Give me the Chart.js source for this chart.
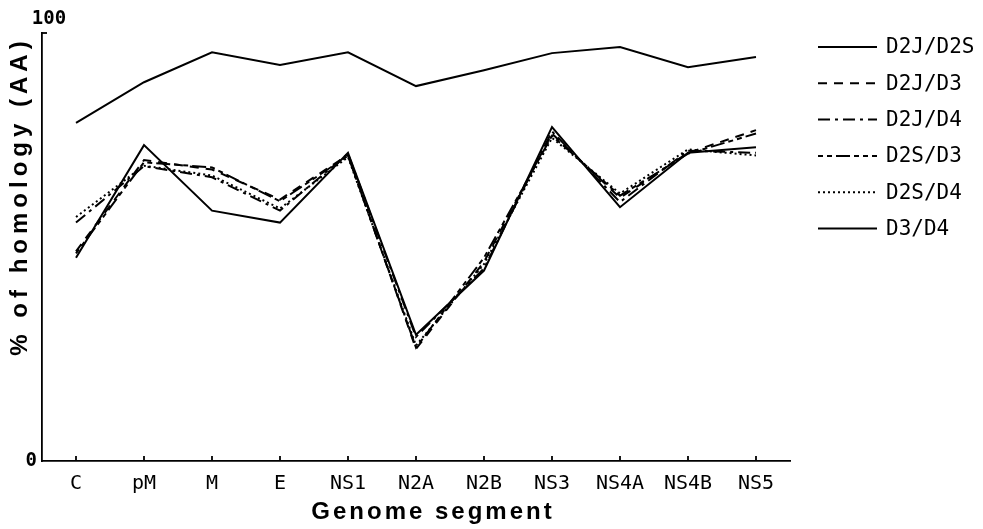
<!DOCTYPE html>
<html>
<head>
<meta charset="utf-8">
<script src="https://cdn.jsdelivr.net/npm/chart.js@4/dist/chart.umd.min.js"></script>
<style>
  html, body { margin: 0; padding: 0; background: #fff; }
  #wrap { width: 983px; height: 529px; }
</style>
</head>
<body>
<div id="wrap"><canvas id="homologyChart"></canvas></div>
<script>
// Segmentos del genoma
const categories = ['C', 'pM', 'M', 'E', 'NS1', 'N2A', 'N2B', 'NS3', 'NS4A', 'NS4B', 'NS5'];

// % de homología (AA) por par
const d2jD2s = [79, 88.5, 95.5, 92.5, 95.5, 87.6, 91.3, 95.3, 96.7, 92, 94.4];
const d2jD3 = [49, 70.3, 68.1, 61.1, 71.5, 26.2, 46.5, 76.5, 61.5, 72, 77.3];
const d2jD4 = [55.7, 68.9, 66.3, 58.5, 71.8, 29, 45, 77, 60.5, 72.5, 72];
const d2sD3 = [48.5, 69.8, 68.6, 60.7, 71.3, 26.5, 47.5, 76, 62, 71.8, 76.5];
const d2sD4 = [57, 69, 66.7, 59, 71, 27, 46, 75.5, 62.5, 72.8, 71.4];
const d3D4 = [47.5, 73.8, 58.5, 55.7, 72, 29.5, 44.5, 78, 59.3, 72, 73.3];

const yTickLabels = ['0', '100'];

const mono = '"DejaVu Sans Mono", "Liberation Mono", monospace';

function serie(label, data, dash) {
    return {
        label: label,
        data: data,
        borderColor: '#000',
        borderWidth: 2,
        borderDash: dash,
        pointRadius: 0,
        tension: 0,
        fill: false
    };
}

// Leyenda, títulos y marcas dibujados a mano
const decor = {
    id: 'decor',
    afterDraw(chart) {
        const ctx = chart.ctx;
        const a = chart.chartArea;
        const x = chart.scales.x;
        const y = chart.scales.y;
        ctx.save();
        ctx.strokeStyle = '#000';
        ctx.fillStyle = '#000';
        ctx.lineWidth = 1.8;

        // marcas hacia dentro del eje x
        x.ticks.forEach((t, i) => {
            const px = x.getPixelForTick(i);
            ctx.beginPath();
            ctx.moveTo(px, a.bottom);
            ctx.lineTo(px, a.bottom - 5);
            ctx.stroke();
        });
        // tope del eje y
        const top = y.getPixelForValue(100);
        ctx.beginPath();
        ctx.moveTo(a.left, top);
        ctx.lineTo(a.left + 5, top);
        ctx.stroke();

        // etiquetas del eje y
        ctx.font = 'bold 19px ' + mono;
        ctx.textAlign = 'right';
        ctx.textBaseline = 'middle';
        ctx.fillText(yTickLabels[0], a.left - 5, y.getPixelForValue(0));
        ctx.textAlign = 'center';
        ctx.textBaseline = 'bottom';
        ctx.fillText(yTickLabels[1], a.left + 7, top - 4);

        // títulos
        ctx.font = 'bold 24px "Liberation Sans", Arial, sans-serif';
        ctx.letterSpacing = '3px';
        ctx.textAlign = 'center';
        ctx.textBaseline = 'middle';
        ctx.fillText('Genome segment', 433, 512);
        ctx.letterSpacing = '5px';
        ctx.translate(20, 196);
        ctx.rotate(-Math.PI / 2);
        ctx.fillText('% of homology (AA)', 0, 0);
        ctx.setTransform(1, 0, 0, 1, 0, 0);
        ctx.letterSpacing = '0px';

        // leyenda
        ctx.font = '21px ' + mono;
        ctx.textAlign = 'left';
        chart.data.datasets.forEach((ds, i) => {
            const yy = 47 + i * 36.3;
            ctx.setLineDash(ds.borderDash || []);
            ctx.lineWidth = ds.borderWidth;
            ctx.beginPath();
            ctx.moveTo(818, yy);
            ctx.lineTo(877, yy);
            ctx.stroke();
            ctx.setLineDash([]);
            ctx.fillText(ds.label, 886, yy + 1);
        });
        ctx.restore();
    }
};

document.addEventListener('DOMContentLoaded', function () {
    const ctx = document.getElementById('homologyChart').getContext('2d');
    new Chart(ctx, {
        type: 'line',
        data: {
            labels: categories,
            datasets: [
                serie('D2J/D2S', d2jD2s, []),
                serie('D2J/D3', d2jD3, [9, 7]),
                serie('D2J/D4', d2jD4, [12, 5, 3, 5]),
                serie('D2S/D3', d2sD3, [5, 4, 5, 4, 14, 4]),
                serie('D2S/D4', d2sD4, [2, 3]),
                serie('D3/D4', d3D4, [])
            ]
        },
        options: {
            responsive: true,
            maintainAspectRatio: false,
            animation: false,
            layout: { padding: { left: 34, right: 193, top: 33, bottom: 30 } },
            plugins: {
                legend: { display: false },
                tooltip: { enabled: false }
            },
            scales: {
                x: {
                    offset: true,
                    grid: { display: false },
                    border: { display: true, color: '#000', width: 1.8 },
                    ticks: { color: '#000', padding: 3, font: { family: mono, size: 20 } }
                },
                y: {
                    min: 0,
                    max: 100,
                    grid: { display: false },
                    border: { display: true, color: '#000', width: 1.8 },
                    ticks: { display: false }
                }
            }
        },
        plugins: [decor]
    });
});
</script>
</body>
</html>
